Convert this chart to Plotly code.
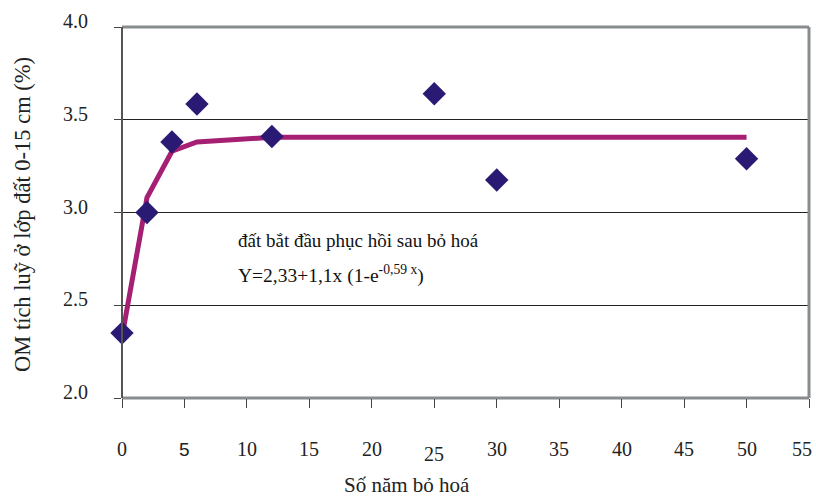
import plotly.graph_objects as go

# Observed organic matter (%) by years of fallow
years_obs = [0, 2, 4, 6, 12, 25, 30, 50]
om_obs = [2.35, 3.0, 3.38, 3.585, 3.41, 3.64, 3.175, 3.29]

# Fitted recovery curve
years_fit = [0, 2, 4, 6, 12, 25, 30, 50]
om_fit = [2.33, 3.08, 3.33, 3.38, 3.405, 3.405, 3.405, 3.405]

x_ticks = [0, 5, 10, 15, 20, 25, 30, 35, 40, 45, 50, 55]
y_ticks = [2.0, 2.5, 3.0, 3.5, 4.0]

SERIF = "Liberation Serif, Times New Roman, serif"
FRAME = "#878c8e"

# plot area in pixels
L, R, T, B = 122, 809, 27, 398
W, H = R - L, B - T


def px_x(p):
    return (p - L) / W


def px_y(p):
    return (B - p) / H


fig = go.Figure()

fig.add_trace(go.Scatter(
    x=years_fit, y=om_fit, mode="lines",
    line=dict(color="#a51f72", width=5),
    hoverinfo="skip", showlegend=False, cliponaxis=False,
))
fig.add_trace(go.Scatter(
    x=years_obs, y=om_obs, mode="markers",
    marker=dict(symbol="diamond", size=18, color="#2b1a74",
                line=dict(width=0)),
    showlegend=False, cliponaxis=False,
))

annotations = []
# x tick labels, set well below the axis
for v in x_ticks:
    font = dict(family=SERIF, size=20, color="#222")
    shift = 0
    anchor, xs = "center", 0
    if v == 5:
        font = dict(family="Liberation Sans, Arial, sans-serif", size=19, color="#222")
    if v == 25:
        shift = -5
    if v == 55:
        anchor, xs = "right", 5
    annotations.append(dict(
        x=v, y=0, xref="x", yref="paper", text=str(v), showarrow=False,
        yanchor="middle", xanchor=anchor, xshift=xs, yshift=-51 + shift,
        font=font,
    ))
# y tick labels
for v in y_ticks:
    annotations.append(dict(
        x=0, y=v, xref="paper", yref="y", text=f"{v:.1f}", showarrow=False,
        xanchor="right", yanchor="middle", xshift=-32, yshift=6,
        font=dict(family=SERIF, size=20, color="#222"),
    ))

# axis titles
annotations += [
    dict(x=px_x(407), y=px_y(485), xref="paper", yref="paper",
         text="Số năm bỏ hoá", showarrow=False,
         xanchor="center", yanchor="middle",
         font=dict(family=SERIF, size=21, color="#222")),
    dict(x=px_x(23), y=px_y(215), xref="paper", yref="paper",
         text="OM tích luỹ ở lớp đất 0-15 cm (%)", showarrow=False,
         textangle=-90, xanchor="center", yanchor="middle",
         font=dict(family=SERIF, size=22.5, color="#222")),
]

# curve description
annotations += [
    dict(x=px_x(236), y=px_y(240), xref="paper", yref="paper",
         text="đất bắt đầu phục hồi sau bỏ hoá", showarrow=False,
         xanchor="left", yanchor="middle",
         font=dict(family=SERIF, size=19, color="#111")),
    dict(x=px_x(236), y=px_y(274), xref="paper", yref="paper",
         text="Y=2,33+1,1x (1-e<sup>-0,59 x</sup>)", showarrow=False,
         xanchor="left", yanchor="middle",
         font=dict(family=SERIF, size=19.5, color="#111")),
]

fig.update_layout(
    width=816, height=499,
    margin=dict(l=L, r=816 - R, t=T, b=499 - B),
    paper_bgcolor="white", plot_bgcolor="white",
    showlegend=False,
    annotations=annotations,
    xaxis=dict(
        range=[0, 55], tickvals=x_ticks, showticklabels=False,
        ticks="outside", ticklen=9, tickcolor="#444", tickwidth=1,
        showgrid=False, zeroline=False, showline=False,
    ),
    yaxis=dict(
        range=[2, 4], tickvals=y_ticks, showticklabels=False,
        ticks="outside", ticklen=7, tickcolor="#444", tickwidth=1,
        showgrid=True, gridcolor="#222", gridwidth=1,
        zeroline=False, showline=False,
    ),
    shapes=[
        dict(type="line", xref="paper", yref="paper", x0=0, y0=0, x1=1, y1=0,
             line=dict(color=FRAME, width=3), layer="below"),
        dict(type="line", xref="paper", yref="paper", x0=0, y0=1, x1=1, y1=1,
             line=dict(color=FRAME, width=3), layer="above"),
        dict(type="line", xref="paper", yref="paper", x0=1, y0=0, x1=1, y1=1,
             line=dict(color=FRAME, width=3), layer="above"),
        dict(type="line", xref="paper", yref="paper", x0=0, y0=0, x1=0, y1=1,
             line=dict(color="#555", width=2), layer="above"),
    ],
)

fig.write_html("out.html")
